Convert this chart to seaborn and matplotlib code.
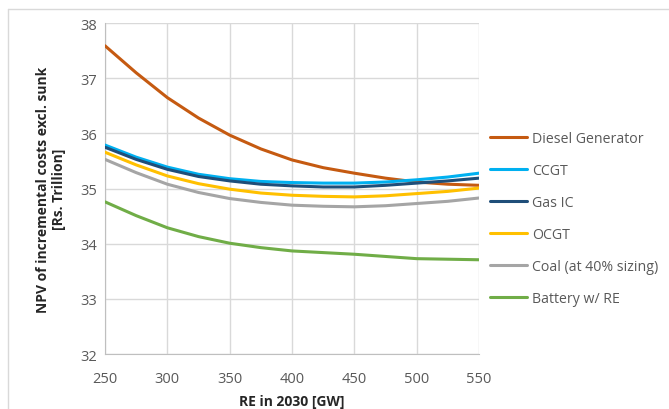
import numpy as np
import pandas as pd
import matplotlib.pyplot as plt
import seaborn as sns
from matplotlib.lines import Line2D

re_gw = [250, 275, 300, 325, 350, 375, 400, 425, 450, 475, 500, 525, 550]

diesel = [37.59, 37.10, 36.65, 36.28, 35.97, 35.72, 35.52, 35.38, 35.28, 35.19, 35.12, 35.08, 35.06]
ccgt = [35.79, 35.57, 35.39, 35.26, 35.18, 35.13, 35.11, 35.10, 35.10, 35.12, 35.16, 35.21, 35.28]
gas_ic = [35.75, 35.53, 35.35, 35.22, 35.14, 35.08, 35.05, 35.03, 35.03, 35.06, 35.10, 35.14, 35.19]
ocgt = [35.66, 35.43, 35.23, 35.09, 34.99, 34.92, 34.88, 34.86, 34.85, 34.87, 34.91, 34.95, 35.01]
coal = [35.53, 35.29, 35.08, 34.93, 34.82, 34.75, 34.70, 34.68, 34.67, 34.69, 34.73, 34.77, 34.83]
battery = [34.76, 34.51, 34.29, 34.13, 34.01, 33.93, 33.87, 33.84, 33.81, 33.77, 33.73, 33.72, 33.71]

series_names = ["Diesel Generator", "CCGT", "Gas IC", "OCGT", "Coal (at 40% sizing)", "Battery w/ RE"]
colors = ["#C55A11", "#00B0F0", "#1F4E79", "#FFC000", "#A5A5A5", "#70AD47"]

df = pd.DataFrame({"RE": re_gw, series_names[0]: diesel, series_names[1]: ccgt,
                   series_names[2]: gas_ic, series_names[3]: ocgt,
                   series_names[4]: coal, series_names[5]: battery})
long = df.melt(id_vars="RE", var_name="Option", value_name="NPV")

sns.set_style("white")
plt.rcParams["font.family"] = ["Open Sans", "DejaVu Sans"]

fig = plt.figure(figsize=(6.69, 4.10), dpi=100)
ax = fig.add_axes([0.157, 0.134, 0.559, 0.807])

sns.lineplot(data=long, x="RE", y="NPV", hue="Option", hue_order=series_names,
             palette=colors, linewidth=2.2, ax=ax, legend=False, zorder=3)

ax.set_xlim(250, 550)
ax.set_ylim(32, 38)
ax.set_xticks(range(250, 551, 50))
ax.set_yticks(range(32, 39))
ax.grid(True, color="#D9D9D9", linewidth=1)
for s in ["top", "right"]:
    ax.spines[s].set_visible(False)
for s in ["left", "bottom"]:
    ax.spines[s].set_color("#BFBFBF")
ax.tick_params(colors="#595959", labelsize=10.5, length=0, pad=6)
ax.tick_params(axis="x", length=4, color="#BFBFBF", direction="out", pad=8)

ax.set_xlabel("RE in 2030 [GW]", fontsize=10, fontweight="bold", labelpad=6)
ax.set_ylabel("NPV of incremental costs excl. sunk\n[Rs. Trillion]", fontsize=10,
              fontweight="bold", labelpad=10)

handles = [Line2D([0], [0], color=c, linewidth=2.2) for c in colors]
fig.legend(handles, series_names, loc="upper left", bbox_to_anchor=(0.713, 0.71),
           frameon=False, fontsize=10.2, handlelength=2.6, handletextpad=0.4,
           labelspacing=1.2, labelcolor="#595959")

# chart area border (top and left edges visible)
fig.add_artist(Line2D([8 / 669, 1], [1 - 10 / 410, 1 - 10 / 410], color="#D9D9D9", linewidth=1))
fig.add_artist(Line2D([8 / 669, 8 / 669], [0, 1 - 10 / 410], color="#D9D9D9", linewidth=1))

fig.savefig("out.png", dpi=100)
